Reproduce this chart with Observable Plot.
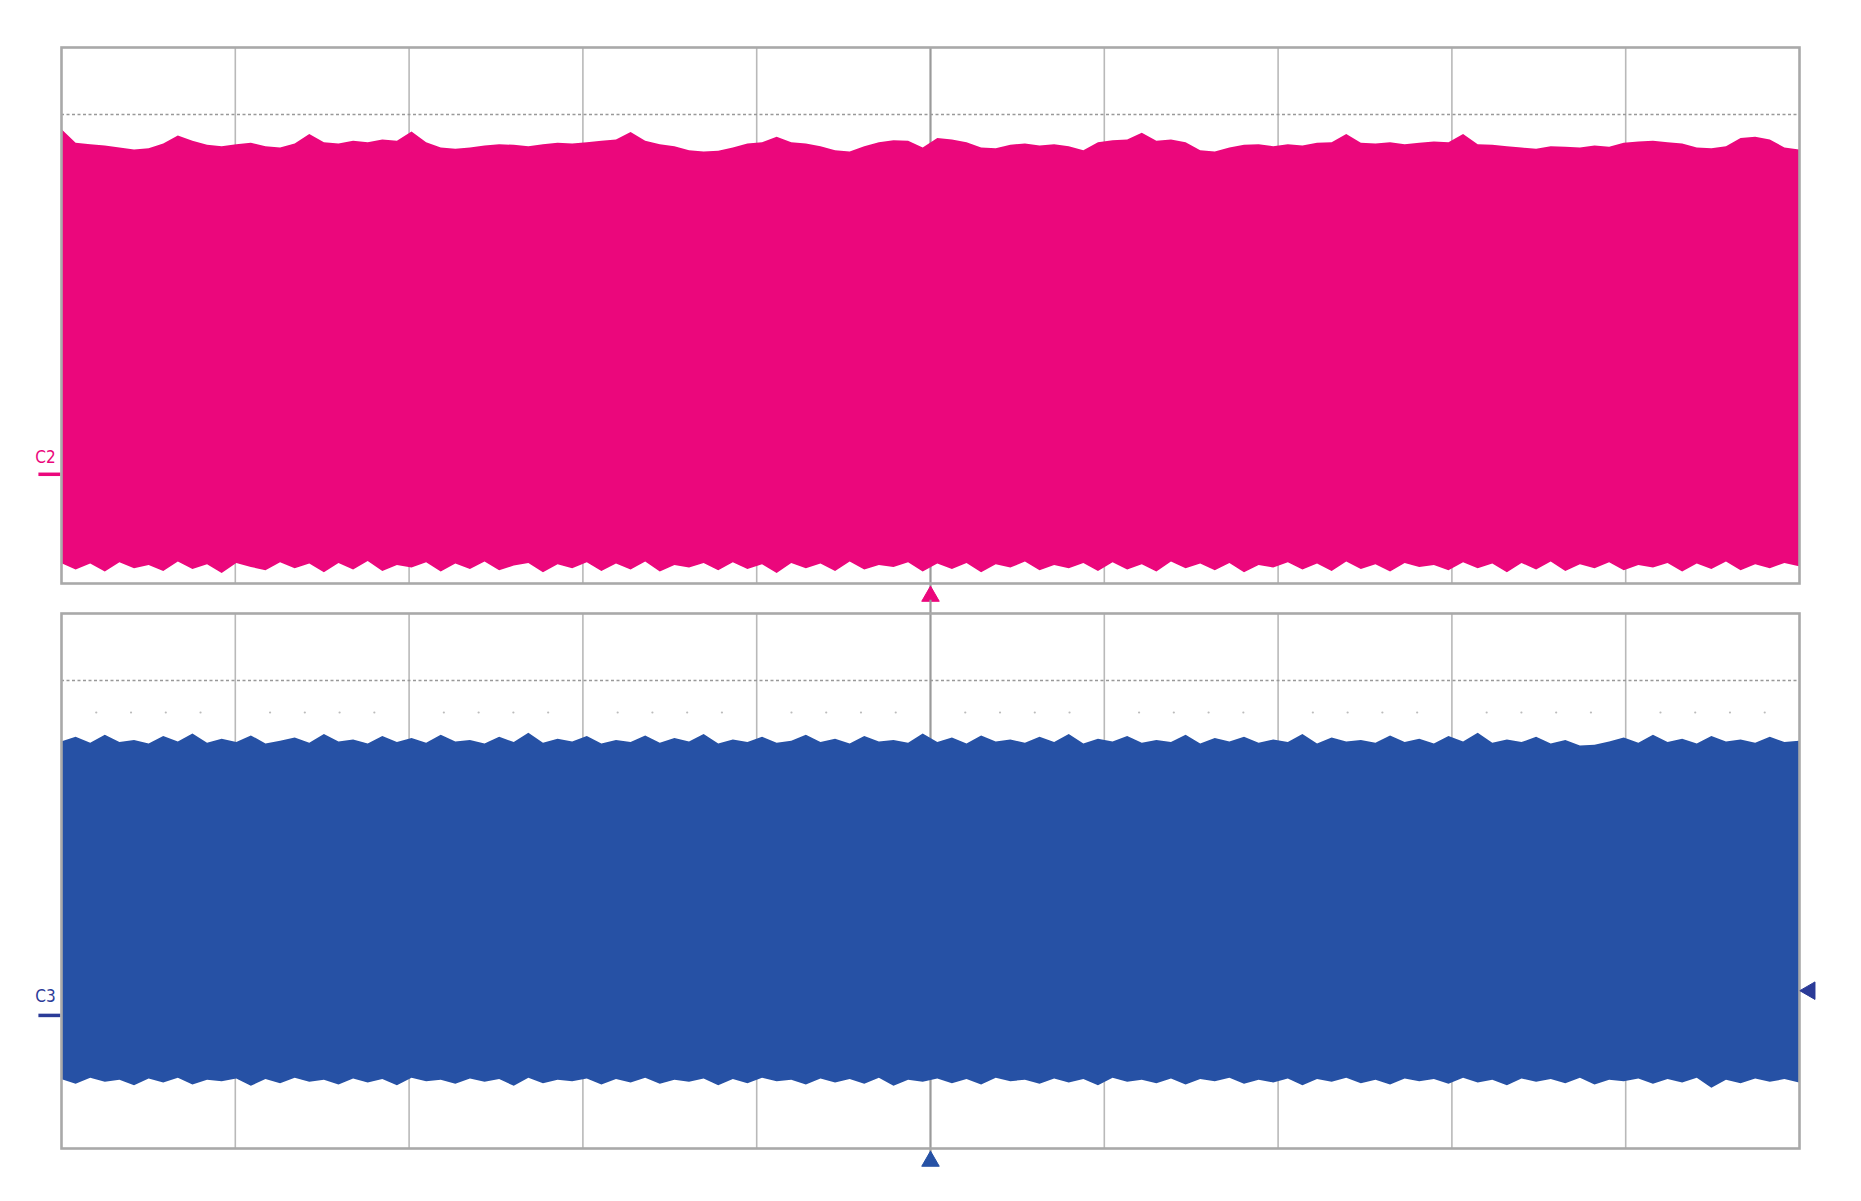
<!DOCTYPE html>
<html>
<head>
<meta charset="utf-8">
<script src="https://cdn.jsdelivr.net/npm/d3@7"></script>
<script src="https://cdn.jsdelivr.net/npm/@observablehq/plot@0.6"></script>
<style>
  html, body { margin: 0; padding: 0; background: #fff; overflow: hidden; }
  #wrap { position: relative; width: 1861px; height: 1201px; }
  #top, #bottom { position: absolute; left: 0; }
  #top { top: 0; }
  #bottom { top: 600px; }
</style>
</head>
<body>
<div id="wrap"><div id="top"></div><div id="bottom"></div></div>
<script>
// ---- data (in oscilloscope divisions: x 0..10, y 0..8) ----
const xDivisions = [1, 2, 3, 4, 6, 7, 8, 9];
const centerDivision = 5;
const dashedLevel = 7;
const minorTicks = [0.2,0.4,0.6,0.8,1.2,1.4,1.6,1.8,2.2,2.4,2.6,2.8,3.2,3.4,3.6,3.8,4.2,4.4,4.6,4.8,5.2,5.4,5.6,5.8,6.2,6.4,6.6,6.8,7.2,7.4,7.6,7.8,8.2,8.4,8.6,8.8,9.2,9.4,9.6,9.8];
const minorTickLevel = 6.52;

// C2 (pink) envelope
const c2Upper = [6.78,6.57,6.55,6.53,6.50,6.47,6.49,6.56,6.68,6.60,6.54,6.52,6.55,6.57,6.52,6.50,6.56,6.70,6.58,6.56,
  6.60,6.58,6.62,6.60,6.74,6.58,6.50,6.48,6.50,6.53,6.55,6.54,6.52,6.55,6.57,6.56,6.58,6.60,6.62,6.73,
  6.60,6.55,6.52,6.46,6.44,6.45,6.50,6.56,6.58,6.66,6.58,6.56,6.52,6.46,6.44,6.52,6.58,6.61,6.60,6.50,
  6.64,6.62,6.58,6.50,6.49,6.54,6.56,6.53,6.55,6.52,6.46,6.58,6.61,6.62,6.72,6.60,6.62,6.58,6.46,6.44,
  6.50,6.54,6.55,6.52,6.55,6.53,6.57,6.58,6.70,6.57,6.56,6.58,6.55,6.57,6.59,6.58,6.70,6.55,6.54,6.52,
  6.50,6.48,6.52,6.51,6.50,6.53,6.51,6.57,6.59,6.60,6.58,6.56,6.50,6.49,6.52,6.64,6.66,6.62,6.50,6.47];
const c2Lower = [0.30,0.20,0.29,0.17,0.31,0.22,0.27,0.18,0.32,0.21,0.28,0.15,0.30,0.24,0.19,0.31,0.22,0.29,0.16,0.30,
  0.20,0.33,0.18,0.27,0.23,0.31,0.17,0.29,0.21,0.32,0.19,0.26,0.30,0.16,0.28,0.22,0.31,0.18,0.29,0.20,
  0.32,0.17,0.27,0.23,0.30,0.19,0.31,0.21,0.28,0.15,0.30,0.22,0.29,0.18,0.32,0.20,0.27,0.24,0.31,0.17,
  0.29,0.21,0.30,0.16,0.28,0.23,0.32,0.19,0.27,0.22,0.30,0.18,0.31,0.20,0.28,0.17,0.32,0.22,0.29,0.19,
  0.30,0.16,0.27,0.23,0.31,0.20,0.29,0.18,0.32,0.21,0.28,0.17,0.30,0.24,0.27,0.19,0.31,0.22,0.29,0.16,
  0.30,0.20,0.32,0.18,0.28,0.22,0.31,0.19,0.27,0.23,0.30,0.17,0.29,0.21,0.32,0.19,0.28,0.22,0.30,0.25];

// C3 (blue) envelope
const c3Upper = [6.08,6.15,6.06,6.18,6.07,6.10,6.05,6.16,6.08,6.20,6.06,6.12,6.07,6.17,6.05,6.09,6.14,6.06,6.19,6.08,
  6.11,6.05,6.16,6.07,6.13,6.06,6.18,6.08,6.10,6.05,6.15,6.07,6.21,6.06,6.12,6.08,6.16,6.05,6.10,6.07,
  6.17,6.06,6.13,6.08,6.19,6.05,6.11,6.07,6.15,6.06,6.09,6.18,6.07,6.12,6.05,6.16,6.08,6.10,6.06,6.20,
  6.07,6.14,6.05,6.17,6.08,6.11,6.06,6.15,6.07,6.19,6.05,6.12,6.08,6.16,6.06,6.10,6.07,6.18,6.05,6.13,
  6.08,6.15,6.06,6.11,6.07,6.19,6.05,6.14,6.08,6.10,6.06,6.17,6.07,6.12,6.05,6.16,6.08,6.21,6.06,6.11,
  6.07,6.15,6.05,6.10,6.02,6.03,6.08,6.14,6.06,6.18,6.07,6.12,6.05,6.16,6.08,6.11,6.06,6.15,6.07,6.09];
const c3Lower = [1.03,0.96,1.05,0.99,1.02,0.94,1.04,0.98,1.05,0.95,1.02,1.00,1.04,0.93,1.03,0.97,1.05,0.99,1.02,0.95,
  1.04,0.98,1.03,0.94,1.05,1.00,1.02,0.96,1.04,0.99,1.03,0.93,1.05,0.97,1.02,1.00,1.04,0.95,1.03,0.98,
  1.05,0.96,1.02,0.99,1.04,0.94,1.03,0.97,1.05,1.00,1.02,0.95,1.04,0.98,1.03,0.96,1.05,0.93,1.02,0.99,
  1.04,0.97,1.03,0.95,1.05,1.00,1.02,0.96,1.04,0.98,1.03,0.94,1.05,0.99,1.02,0.97,1.04,0.95,1.03,1.00,
  1.05,0.96,1.02,0.98,1.04,0.94,1.03,0.99,1.05,0.97,1.02,0.95,1.04,1.00,1.03,0.96,1.05,0.98,1.02,0.94,
  1.04,0.99,1.03,0.97,1.05,0.95,1.02,1.00,1.04,0.96,1.03,0.98,1.05,0.90,1.02,0.97,1.04,0.99,1.03,0.98];

const c2Label = "C2", c3Label = "C3";
const c2LabelLevel = 1.88, c2MarkerLevel = 1.63;
const c3LabelLevel = 2.27, c3MarkerLevel = 1.99;
const triggerX = 5, triggerLevel = -0.19;
const c3RightMarker = {x: 10.06, y: 2.36};

// ---- build tables ----
const toTable = (up, lo) => up.map((u, i) => ({t: i * 10 / (up.length - 1), hi: u, lo: lo[i]}));
const c2 = toTable(c2Upper, c2Lower);
const c3 = toTable(c3Upper, c3Lower);

const PINK = "#eb077c", BLUE = "#2651a5", DARKBLUE = "#2b3b98";
const GRID = "#b9b9b9", FRAME = "#a9a9a9";

function panel({data, color, labelColor, label, labelLevel, markerLevel, marginTop, marginBottom, height, minor, rightMarker, lineExt}) {
  const marks = [
    Plot.ruleX(xDivisions, {stroke: GRID, strokeWidth: 1.6}),
    Plot.ruleX([centerDivision], {y1: lineExt[0], y2: lineExt[1], stroke: "#9a9a9a", strokeWidth: 2.2}),
    Plot.ruleY([dashedLevel], {stroke: "#999999", strokeWidth: 1.5, strokeDasharray: "3,2.5"}),
  ];
  if (minor) marks.push(Plot.dot(minorTicks, {x: d => d, y: minorTickLevel, r: 1.1, fill: "#bbbbbb", stroke: null}));
  marks.push(
    Plot.areaY(data, {x: "t", y1: "lo", y2: "hi", fill: color, curve: "linear"}),
    Plot.frame({stroke: FRAME, strokeWidth: 2.6}),
    Plot.dot([triggerX], {x: d => d, y: triggerLevel, symbol: "triangle", r: 6.5, fill: color, stroke: color, strokeWidth: 1}),
    Plot.text([label], {x: -0.092, y: labelLevel, text: d => d, fill: labelColor, fontSize: 17, fontFamily: "DejaVu Sans Condensed, DejaVu Sans, sans-serif", textAnchor: "middle"}),
    Plot.ruleY([markerLevel], {x1: -0.13, x2: -0.005, stroke: labelColor, strokeWidth: 3.5})
  );
  if (rightMarker) marks.push(Plot.dot([rightMarker], {x: "x", y: "y", symbol: "triangle", r: 6.5, rotate: -90, fill: labelColor, stroke: labelColor, strokeWidth: 1}));
  return Plot.plot({
    width: 1861, height,
    marginLeft: 61, marginRight: 62, marginTop, marginBottom,
    x: {domain: [0, 10], axis: null},
    y: {domain: [0, 8], axis: null},
    style: {background: "transparent", overflow: "visible"},
    marks
  });
}

document.getElementById("top").append(panel({
  data: c2, color: PINK, labelColor: PINK, label: c2Label, labelLevel: c2LabelLevel, markerLevel: c2MarkerLevel,
  marginTop: 47, marginBottom: 17, height: 600, minor: false, rightMarker: null, lineExt: [-0.26, 8]
}));
document.getElementById("bottom").append(panel({
  data: c3, color: BLUE, labelColor: DARKBLUE, label: c3Label, labelLevel: c3LabelLevel, markerLevel: c3MarkerLevel,
  marginTop: 13, marginBottom: 53, height: 601, minor: true, rightMarker: c3RightMarker, lineExt: [-0.18, 8.2]
}));
</script>
</body>
</html>
